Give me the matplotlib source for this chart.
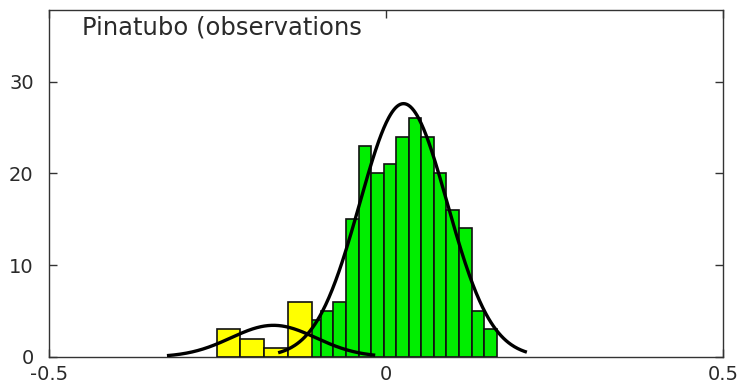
import numpy as np
import matplotlib
matplotlib.use("Agg")
import matplotlib.pyplot as plt

plt.rcParams['font.family'] = ['DejaVu Sans']

# ---- data ----
title_text = "Pinatubo (observations"

green_counts = [4, 5, 6, 15, 23, 20, 21, 24, 26, 24, 20, 16, 14, 5, 3]
green_first_edge = -0.1153
green_last_edge = 0.1642

yellow_counts = [3, 2, 1, 6]
yellow_first_edge = -0.2512
yellow_last_edge = -0.1105

# fitted normal curves: (mean, std, peak height, x start, x end)
green_fit_mean = 0.026
green_fit_std = 0.065
green_fit_peak = 27.6
green_fit_range = (-0.160, 0.209)

yellow_fit_mean = -0.167
yellow_fit_std = 0.063
yellow_fit_peak = 3.45
yellow_fit_range = (-0.325, -0.016)

x_ticks = [-0.5, 0, 0.5]
x_tick_labels = ["-0.5", "0", "0.5"]
y_ticks = [0, 10, 20, 30]
y_tick_labels = ["0", "10", "20", "30"]

# ---- figure ----
fig = plt.figure(figsize=(7.43, 3.84), dpi=100)
ax = fig.add_axes([49/743, 27/384, 674/743, 347/384])

g_edges = np.linspace(green_first_edge, green_last_edge, len(green_counts) + 1)
g_w = g_edges[1] - g_edges[0]
ax.bar(g_edges[:-1], green_counts, width=g_w, align='edge',
       color='#00ee00', edgecolor='#111111', linewidth=1.2, zorder=2)

y_edges = np.linspace(yellow_first_edge, yellow_last_edge, len(yellow_counts) + 1)
y_w = y_edges[1] - y_edges[0]
ax.bar(y_edges[:-1], yellow_counts, width=y_w, align='edge',
       color='#ffff00', edgecolor='#111111', linewidth=1.2, zorder=3)

def fit_curve(mean, std, peak, rng):
    xs = np.linspace(rng[0], rng[1], 300)
    return xs, peak * np.exp(-0.5 * ((xs - mean) / std) ** 2)

xs, ys = fit_curve(green_fit_mean, green_fit_std, green_fit_peak, green_fit_range)
ax.plot(xs, ys, color='black', lw=2.4, zorder=4, solid_capstyle='butt')
xs, ys = fit_curve(yellow_fit_mean, yellow_fit_std, yellow_fit_peak, yellow_fit_range)
ax.plot(xs, ys, color='black', lw=2.4, zorder=4, solid_capstyle='butt')

ax.set_xlim(-0.5, 0.5)
ax.set_ylim(0, 37.8)
ax.set_xticks(x_ticks)
ax.set_xticklabels(x_tick_labels)
ax.set_yticks(y_ticks)
ax.set_yticklabels(y_tick_labels)

ax.tick_params(axis='both', direction='in', length=6, width=1.0,
               color='#333333', labelsize=14, labelcolor='#2a2a2a',
               top=True, right=True)
ax.tick_params(axis='y', pad=11)
ax.tick_params(axis='x', pad=6)
for s in ax.spines.values():
    s.set_linewidth(1.0)
    s.set_color('#333333')

ax.text(0.049, 0.95, title_text, transform=ax.transAxes, fontsize=17.5,
        ha='left', va='center', color='#2a2a2a')

fig.savefig("out.png", dpi=100)
